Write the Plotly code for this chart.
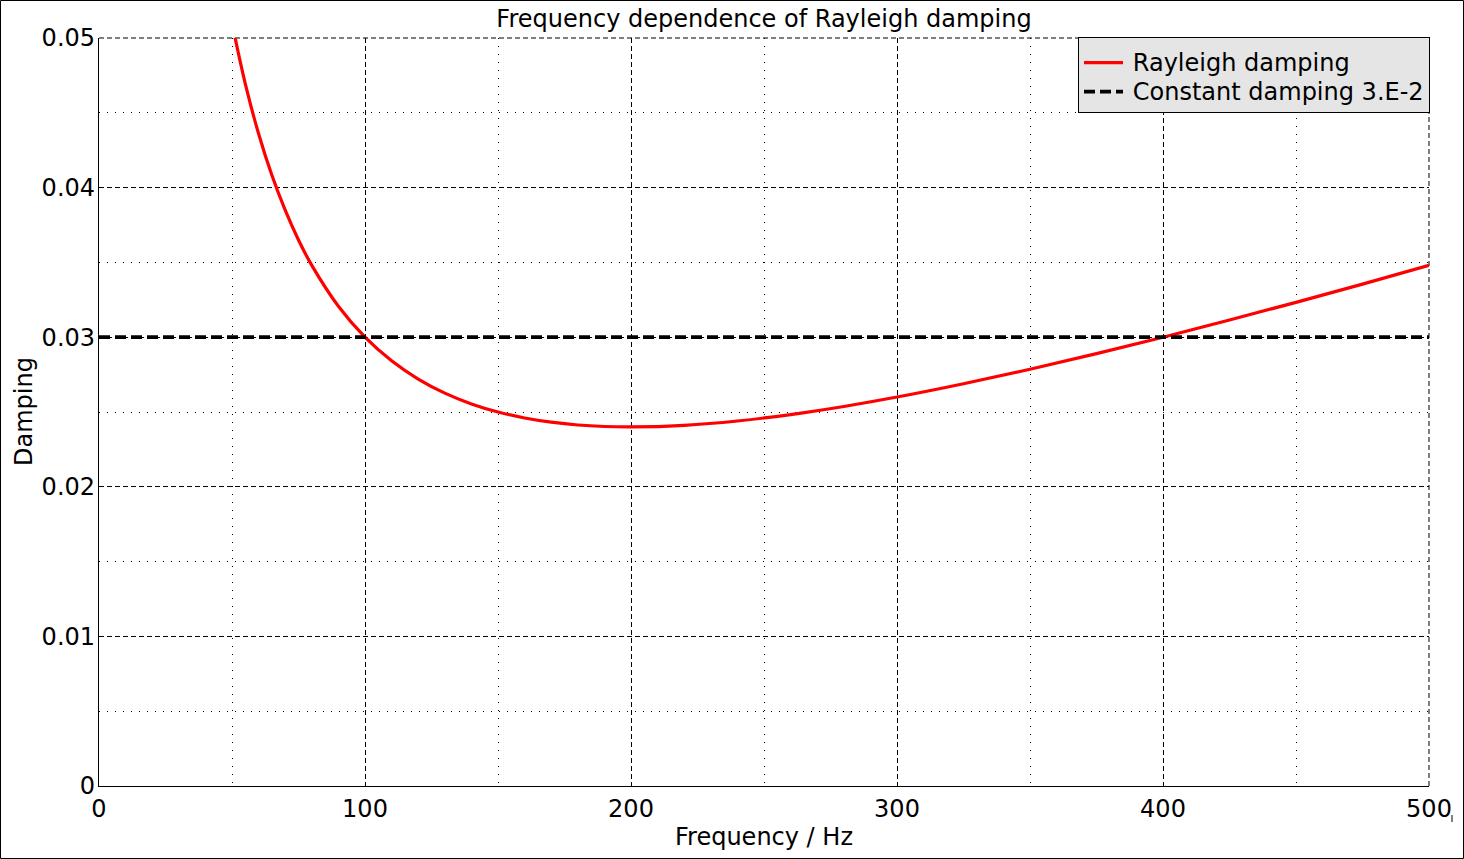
import plotly.graph_objects as go

# Values
freq = [50, 55, 60, 65, 70, 75, 80, 90, 100, 110, 120, 130, 140, 150, 160, 170, 180, 190,
        200, 220, 240, 260, 280, 300, 325, 350, 375, 400, 425, 450, 475, 500]
rayleigh = [0.0510, 0.04694, 0.0436, 0.04082, 0.03849, 0.0365, 0.0348, 0.03207, 0.0300,
            0.02842, 0.0272, 0.02626, 0.02554, 0.0250, 0.0246, 0.02432, 0.02413, 0.02403,
            0.0240, 0.02411, 0.0244, 0.02483, 0.02537, 0.0260, 0.02689, 0.02786, 0.0289,
            0.0300, 0.03115, 0.03233, 0.03355, 0.0348]
const_x = [0, 500]
const_y = [0.03, 0.03]
series_names = ["Rayleigh damping", "Constant damping 3.E-2"]

W, H = 1464, 859
L, R, T, B = 99, 35, 38, 73
pw, ph = W - L - R, H - T - B
FONT = "DejaVu Sans"
MAJ_DASH = "5px,3px"
MIN_DASH = "1px,7px"


def legend_label(s):
    return "<span style='font-size:24px'>&#8201;" + s + "</span>"


fig = go.Figure()
fig.add_trace(go.Scatter(x=freq, y=rayleigh, mode="lines", name=legend_label(series_names[0]),
                         line=dict(color="#ff0000", width=3.2, shape="spline")))
fig.add_trace(go.Scatter(x=const_x, y=const_y, mode="lines", name=legend_label(series_names[1]),
                         line=dict(color="black", width=3.8, dash="11px,5px")))

axis_common = dict(
    showgrid=True, gridcolor="black", gridwidth=1, griddash=MAJ_DASH,
    showline=True, linecolor="black", linewidth=1.3, mirror=False,
    ticks="", zeroline=False, automargin=False,
    tickfont=dict(family=FONT, size=24, color="black"),
)
fig.update_xaxes(range=[0, 500], dtick=100, tick0=0,
                 minor=dict(dtick=50, showgrid=True, gridcolor="black", griddash=MIN_DASH, gridwidth=1),
                 title=dict(text="Frequency / Hz", font=dict(family=FONT, size=24, color="black"), standoff=6),
                 ticklabelstandoff=1, **axis_common)
fig.update_yaxes(range=[0, 0.05], dtick=0.01, tick0=0,
                 minor=dict(dtick=0.005, showgrid=True, gridcolor="black", griddash=MIN_DASH, gridwidth=1),
                 ticklabelstandoff=-2, **axis_common)

fig.update_layout(
    width=W, height=H,
    margin=dict(l=L, r=R, t=T, b=B, autoexpand=False),
    paper_bgcolor="white", plot_bgcolor="white",
    title=dict(text="Frequency dependence of Rayleigh damping", x=0.5, xanchor="center",
               xref="paper",
               y=1 - 19 / H, yanchor="middle", font=dict(family=FONT, size=24, color="black")),
    legend=dict(x=(1430 - L) / pw, xanchor="right", y=1 + 1 / ph, yanchor="top",
                bgcolor="#e5e5e5", bordercolor="black", borderwidth=1, itemwidth=39,
                title=dict(text="&nbsp;", font=dict(size=4)),
                font=dict(family=FONT, size=20, color="black"), tracegroupgap=0),
    showlegend=True,
    annotations=[
        dict(text="Damping", xref="paper", yref="paper", x=(24 - L) / pw, y=0.5,
             xanchor="center", yanchor="middle", textangle=-90, showarrow=False,
             font=dict(family=FONT, size=24, color="black")),
    ],
    shapes=[
        # top and right grid lines at the range ends
        dict(type="line", xref="x domain", yref="y domain", x0=0, x1=1, y0=1, y1=1,
             line=dict(color="black", width=1, dash=MAJ_DASH), layer="below"),
        dict(type="line", xref="x domain", yref="y domain", x0=1, x1=1, y0=0, y1=1,
             line=dict(color="black", width=1, dash=MAJ_DASH), layer="below"),
        # outer border
        dict(type="rect", xref="paper", yref="paper",
             x0=(0.5 - L) / pw, x1=(W - 0.5 - L) / pw,
             y0=-(H - 0.5 - T - ph) / ph, y1=1 + (T - 0.5) / ph,
             line=dict(color="black", width=1), fillcolor="rgba(0,0,0,0)", layer="above"),
        dict(type="line", xref="paper", yref="paper",
             x0=(1452 - L) / pw, x1=(1452 - L) / pw,
             y0=-(815 - T - ph) / ph, y1=-(822 - T - ph) / ph,
             line=dict(color="black", width=1)),
    ],
)

fig.write_html("out.html")
